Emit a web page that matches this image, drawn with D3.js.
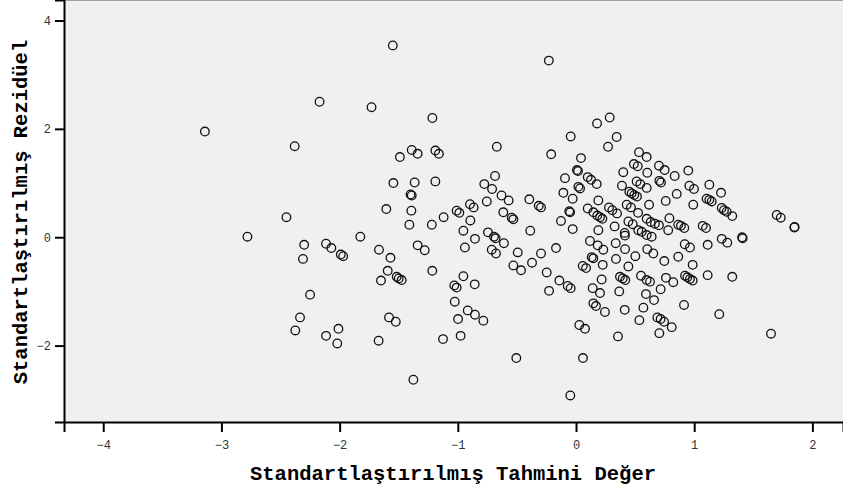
<!DOCTYPE html>
<html>
<head>
<meta charset="utf-8">
<script src="https://cdn.jsdelivr.net/npm/d3@7"></script>
<style>
  body { margin: 0; background: #fff; }
  svg { display: block; }
</style>
</head>
<body>
<svg id="chart"></svg>
<script>
// standardized predicted value (x) and standardized residual (y)
const predX = [
  -2.17,-3.14,-2.38,-2.45,-2.78,-2.30,-2.115,-2.07,-1.99,-1.97,-2.31,-2.25,-2.335,-2.375,-2.01,-2.115,-2.02,
  -1.55,-0.23,-1.73,-1.215,-0.67,-0.21,-1.39,-1.49,-1.34,-1.19,-1.16,-1.545,-1.365,-1.19,-0.685,-0.776,-0.71,
  -1.40,-1.39,-0.63,-0.57,-0.755,-0.395,-0.315,-0.296,-1.605,-1.393,-1.01,-0.987,-0.897,-0.866,-0.615,-0.544,
  -0.53,-1.12,-0.894,-1.41,-1.22,-0.953,-0.387,-1.825,-0.745,-0.694,-0.68,-0.855,-0.61,-0.94,-1.34,-1.28,
  -1.667,-1.57,-0.713,-0.677,-0.493,-0.296,-0.372,-0.53,-0.465,-0.248,-1.593,-1.65,-1.517,-1.50,-1.475,-1.216,
  -0.953,-1.03,-1.01,-0.857,-0.228,-1.026,-0.916,-0.855,-0.784,-0.998,-1.582,-1.525,-1.67,-1.125,-0.976,-0.505,-1.376,
  0.285,0.178,-0.045,0.344,0.271,0.042,0.533,0.598,0.49,0.522,0.702,0.75,0.835,0.40,0.603,0.008,0.017,-0.093,
  0.099,0.127,0.175,0.389,0.513,0.544,0.598,0.705,0.719,0.852,0.02,0.034,-0.107,-0.028,0.189,0.451,0.471,0.493,
  0.516,0.429,0.465,0.525,0.618,0.759,-0.057,-0.05,-0.127,-0.028,0.099,0.147,0.18,0.203,0.223,0.279,0.307,0.347,
  0.189,0.327,0.443,0.48,0.598,0.632,0.668,0.702,0.79,0.78,0.865,0.412,0.527,0.556,
  0.414,0.598,0.64,-0.169,0.118,0.183,0.231,0.133,0.147,0.057,0.085,0.226,0.336,0.415,0.338,0.502,0.443,0.603,
  0.654,0.747,0.865,-0.141,-0.07,-0.045,0.217,0.141,0.203,0.372,0.395,0.417,0.366,0.55,0.598,0.626,0.716,0.761,
  0.823,0.592,0.66,0.147,0.169,0.245,0.412,0.57,0.536,0.688,0.716,0.745,0.81,0.705,0.028,0.076,0.355,0.059,-0.048,
  0.95,0.959,0.998,1.128,1.227,1.105,1.128,1.148,0.992,1.233,1.252,1.275,1.322,1.698,1.732,1.847,1.85,0.888,0.916,
  1.072,1.10,0.92,0.964,1.114,1.233,1.28,1.41,1.405,0.987,0.922,0.942,0.964,0.987,1.114,1.322,0.914,1.212,1.65
];
const residY = [
  2.50,1.95,1.68,0.37,0.01,-0.14,-0.12,-0.20,-0.32,-0.35,-0.40,-1.06,-1.48,-1.72,-1.69,-1.82,-1.96,
  3.54,3.26,2.40,2.20,1.67,1.53,1.61,1.48,1.54,1.60,1.54,1.00,1.01,1.03,1.13,0.98,0.89,
  0.79,0.77,0.77,0.68,0.66,0.70,0.58,0.55,0.52,0.49,0.49,0.45,0.61,0.55,0.46,0.36,
  0.33,0.37,0.31,0.23,0.23,0.12,0.12,0.01,0.09,0.01,-0.02,-0.03,-0.11,-0.19,-0.15,-0.24,
  -0.23,-0.38,-0.23,-0.30,-0.28,-0.30,-0.47,-0.52,-0.61,-0.65,-0.62,-0.80,-0.73,-0.76,-0.79,-0.62,
  -0.72,-0.89,-0.93,-0.87,-0.99,-1.19,-1.35,-1.43,-1.54,-1.51,-1.48,-1.56,-1.91,-1.88,-1.82,-2.23,-2.63,
  2.21,2.10,1.86,1.85,1.67,1.46,1.57,1.48,1.35,1.31,1.32,1.24,1.13,1.20,1.19,1.24,1.22,1.09,
  1.11,1.06,0.98,0.95,1.03,0.98,0.91,1.04,1.01,0.80,0.93,0.90,0.82,0.71,0.68,0.84,0.81,0.78,
  0.75,0.60,0.55,0.45,0.60,0.67,0.48,0.46,0.30,0.15,0.53,0.46,0.40,0.37,0.34,0.55,0.50,0.44,
  0.13,0.20,0.29,0.24,0.34,0.28,0.25,0.22,0.35,0.13,0.23,0.08,0.13,0.10,
  0.03,0.04,0.01,-0.20,-0.07,-0.15,-0.23,-0.37,-0.39,-0.53,-0.57,-0.51,-0.11,-0.22,-0.40,-0.35,-0.54,-0.22,
  -0.30,-0.44,-0.36,-0.80,-0.90,-0.94,-0.78,-0.94,-1.03,-0.73,-0.76,-0.79,-1.00,-0.71,-0.79,-0.82,-0.96,-0.75,
  -0.83,-1.05,-1.16,-1.22,-1.27,-1.38,-1.34,-1.30,-1.53,-1.48,-1.51,-1.56,-1.66,-1.77,-1.62,-1.69,-1.83,-2.23,-2.92,
  1.23,0.95,0.89,0.97,0.82,0.71,0.69,0.66,0.60,0.54,0.50,0.47,0.39,0.41,0.36,0.18,0.19,0.21,0.17,
  0.21,0.17,-0.13,-0.19,-0.14,-0.03,-0.10,-0.02,0.00,-0.51,-0.71,-0.74,-0.77,-0.80,-0.70,-0.73,-1.25,-1.42,-1.78
];
const xTicks = [-4, -3, -2, -1, 0, 1, 2];
const yTicks = [-2, 0, 2, 4];
const xTitle = "Standartlaştırılmış Tahmini Değer";
const yTitle = "Standartlaştırılmış Rezidüel";

const width = 843;
const height = 493;
const margin = {top: 0, right: 0, bottom: 71, left: 64};

const svg = d3.select("#chart")
  .attr("width", width)
  .attr("height", height);

const x = d3.scaleLinear()
  .domain([-4.332, 2.259])
  .range([margin.left, width - margin.right]);

const y = d3.scaleLinear()
  .domain([-3.41, 4.378])
  .range([height - margin.bottom, margin.top]);

// plot background
svg.append("rect")
  .attr("x", margin.left)
  .attr("y", margin.top)
  .attr("width", width - margin.left - margin.right)
  .attr("height", height - margin.top - margin.bottom)
  .attr("fill", "#f0f0f0");

svg.append("line")
  .attr("x1", margin.left).attr("x2", width)
  .attr("y1", 0.5).attr("y2", 0.5)
  .attr("stroke", "#a0a0a0");

const xAxis = svg.append("g")
  .attr("transform", `translate(0,${height - margin.bottom})`)
  .call(d3.axisBottom(x).tickValues(xTicks).tickSize(10).tickPadding(8).tickFormat(d3.format("d")));

const yAxis = svg.append("g")
  .attr("transform", `translate(${margin.left},0)`)
  .call(d3.axisLeft(y).tickValues(yTicks).tickSize(9).tickPadding(4).tickFormat(d3.format("d")));

[xAxis, yAxis].forEach(g => {
  g.select(".domain").attr("stroke", "#000").attr("stroke-width", 2);
  g.selectAll(".tick line").attr("stroke", "#000").attr("stroke-width", 2);
  g.selectAll(".tick text")
    .attr("fill", "#333")
    .style("font-family", "'Liberation Mono', monospace")
    .style("font-size", "12px");
});

// points
svg.append("g")
  .selectAll("circle")
  .data(predX.map((v, i) => [v, residY[i]]))
  .enter()
  .append("circle")
  .attr("cx", d => x(d[0]))
  .attr("cy", d => y(d[1]))
  .attr("r", 4.3)
  .attr("fill", "none")
  .attr("stroke", "#111")
  .attr("stroke-width", 1.3);

svg.append("text")
  .attr("x", 453)
  .attr("y", 480)
  .attr("text-anchor", "middle")
  .style("font-family", "'Liberation Mono', monospace")
  .style("font-weight", "bold")
  .style("font-size", "20.5px")
  .text(xTitle);

svg.append("text")
  .attr("transform", "translate(27,212) rotate(-90)")
  .attr("text-anchor", "middle")
  .style("font-family", "'Liberation Mono', monospace")
  .style("font-weight", "bold")
  .style("font-size", "20.5px")
  .text(yTitle);
</script>
</body>
</html>
